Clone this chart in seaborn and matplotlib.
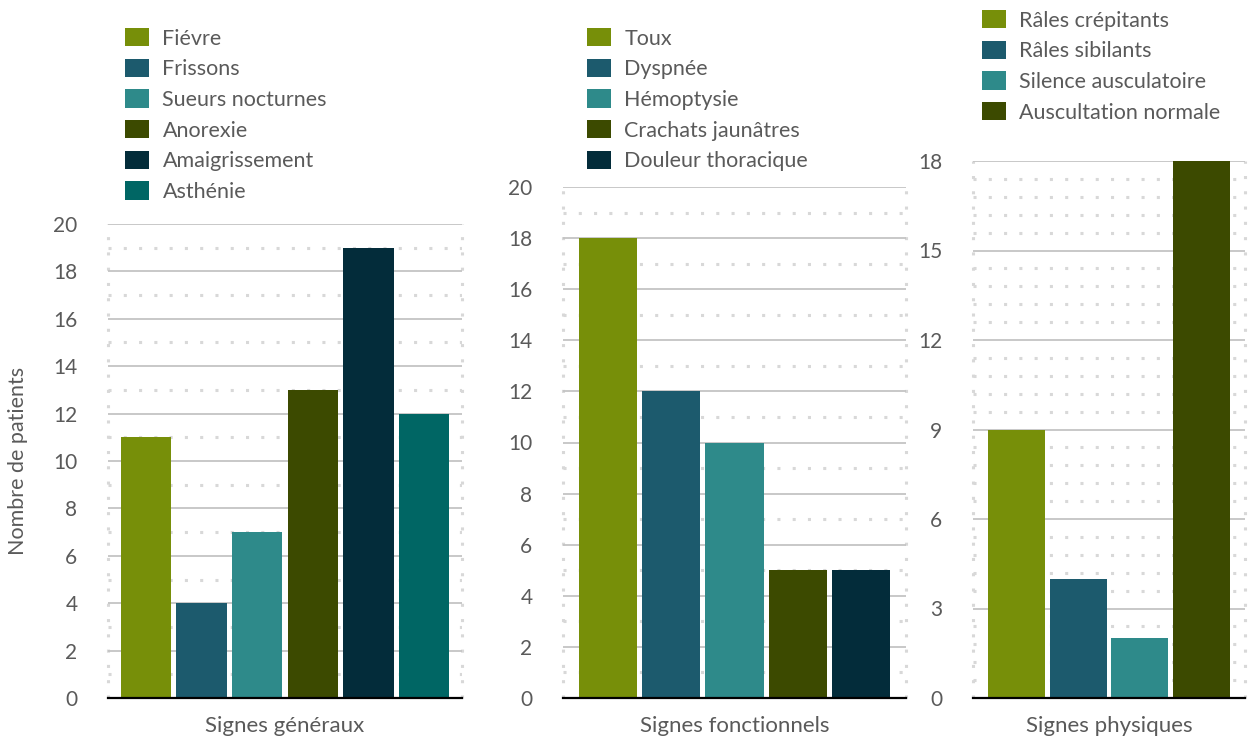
import matplotlib
matplotlib.use("Agg")
import matplotlib.pyplot as plt
from matplotlib.ticker import MultipleLocator
import seaborn as sns
import pandas as pd

# ---- data ----
groups = ["Signes généraux", "Signes fonctionnels", "Signes physiques"]

cats_gen = ["Fiévre", "Frissons", "Sueurs nocturnes", "Anorexie", "Amaigrissement", "Asthénie"]
vals_gen = [11, 4, 7, 13, 19, 12]

cats_fon = ["Toux", "Dyspnée", "Hémoptysie", "Crachats jaunâtres", "Douleur thoracique"]
vals_fon = [18, 12, 10, 5, 5]

cats_phy = ["Râles crépitants", "Râles sibilants", "Silence ausculatoire", "Auscultation normale"]
vals_phy = [9, 4, 2, 18]

colors_gen = ["#778f09", "#1c5a6d", "#2e8a8a", "#3c4a00", "#032c3a", "#006664"]
colors_fon = ["#778f09", "#1c5a6d", "#2e8a8a", "#3c4a00", "#032c3a"]
colors_phy = ["#778f09", "#1c5a6d", "#2e8a8a", "#3c4a00"]

ylims = [20, 20, 18]
ysteps = [2, 2, 3]
yminor = [1, 1, 0.6]

sns.set_theme(style="white")
plt.rcParams["font.family"] = ["Lato", "DejaVu Sans"]
TXT = "#5a5a5a"

W, H = 1252, 742
fig = plt.figure(figsize=(W / 100, H / 100), dpi=100)

# axes boxes in pixels: left, right, top, bottom
boxes = [(108, 462, 224, 698), (563, 906, 187, 698), (973, 1245, 161, 698)]
widths = [0.944, 0.924, 0.908]
gaps = [0.1, 0.08, 0.08]
legend_pos = [(125, 28), (587, 28), (982, 10)]

panels = [(cats_gen, vals_gen, colors_gen), (cats_fon, vals_fon, colors_fon), (cats_phy, vals_phy, colors_phy)]

for i, ((cats, vals, cols), grp) in enumerate(zip(panels, groups)):
    l, r, t, b = boxes[i]
    ax = fig.add_axes([l / W, 1 - b / H, (r - l) / W, (b - t) / H])
    df = pd.DataFrame({"group": [grp] * len(cats), "cat": cats, "val": vals})
    sns.barplot(data=df, x="group", y="val", hue="cat", hue_order=cats,
                palette=cols, saturation=1, width=widths[i], gap=gaps[i],
                linewidth=0, ax=ax, legend=True)
    ax.set_xlim(-0.5, 0.5)
    ax.set_ylim(0, ylims[i])
    ax.yaxis.set_major_locator(MultipleLocator(ysteps[i]))
    ax.yaxis.set_minor_locator(MultipleLocator(yminor[i]))
    ax.set_axisbelow(True)
    ax.grid(axis="y", which="major", color="#c4c4c4", linewidth=1.3, linestyle="-")
    ax.grid(axis="y", which="minor", color="#d8d8d8", linewidth=2.2, linestyle=(0, (1, 4)))
    for xv in (-0.5, 0.5):
        ax.axvline(xv, color="#d8d8d8", linewidth=2.2, linestyle=(0, (1, 4)), zorder=0, clip_on=False)
    for s in ["left", "right", "top"]:
        ax.spines[s].set_visible(False)
    ax.spines["bottom"].set_color("black")
    ax.spines["bottom"].set_linewidth(1.6)
    ax.tick_params(axis="y", which="both", length=0, pad=22, labelsize=15, labelcolor=TXT)
    ax.tick_params(axis="x", length=0, pad=13, labelsize=16, labelcolor=TXT)
    ax.set_xlabel("")
    if i == 0:
        ax.set_ylabel("Nombre de patients", fontsize=15.5, color=TXT)
        ax.yaxis.set_label_coords(-0.225, 0.5)
    else:
        ax.set_ylabel("")
    handles, labels = ax.get_legend_handles_labels()
    lx, ly = legend_pos[i]
    ax.legend(handles, labels, loc="upper left", bbox_to_anchor=(lx / W, 1 - ly / H),
              bbox_transform=fig.transFigure, frameon=False, fontsize=15.5,
              labelcolor=TXT, handlelength=1.12, handleheight=0.93,
              labelspacing=0.47, handletextpad=0.62, borderpad=0, borderaxespad=0)

fig.savefig("out.png", dpi=100)
